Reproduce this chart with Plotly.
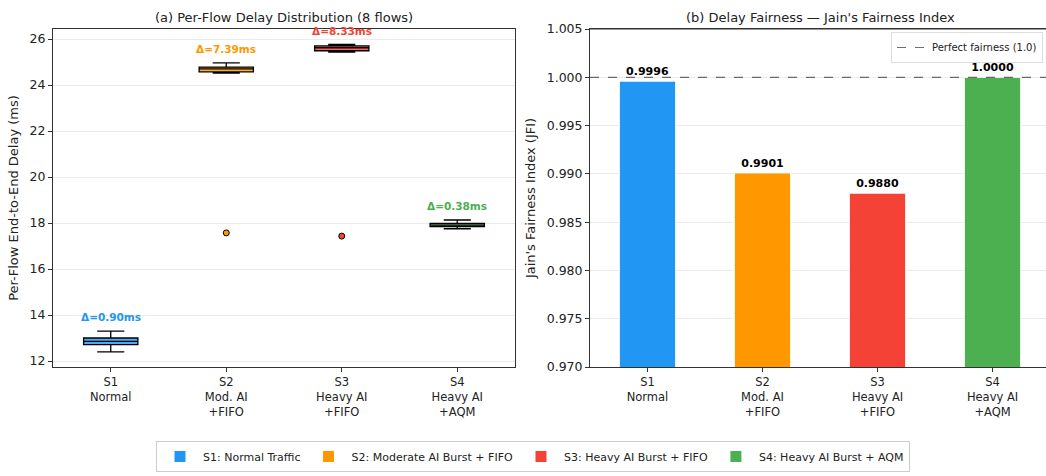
import plotly.graph_objects as go

# Scenario metadata
scenarios = ["S1", "S2", "S3", "S4"]
tick_labels = ["S1<br>Normal", "S2<br>Mod. AI<br>+FIFO", "S3<br>Heavy AI<br>+FIFO", "S4<br>Heavy AI<br>+AQM"]
legend_names = ["S1: Normal Traffic", "S2: Moderate AI Burst + FIFO",
                "S3: Heavy AI Burst + FIFO", "S4: Heavy AI Burst + AQM"]
colors = ["#2196F3", "#FF9800", "#F44336", "#4CAF50"]
fills = ["rgba(33,150,243,0.8)", "rgba(255,152,0,0.8)", "rgba(244,67,54,0.8)", "rgba(76,175,80,0.8)"]

# Per-flow end-to-end delay (ms), 8 flows per scenario
delay_s1 = [12.40, 12.68, 12.75, 12.82, 12.88, 12.95, 13.05, 13.30]
delay_s2 = [17.57, 24.52, 24.63, 24.68, 24.72, 24.76, 24.80, 24.96]
delay_s3 = [17.43, 25.43, 25.55, 25.60, 25.64, 25.68, 25.72, 25.76]
delay_s4 = [17.75, 17.82, 17.86, 17.89, 17.92, 17.95, 18.02, 18.13]
delays = [delay_s1, delay_s2, delay_s3, delay_s4]

# Jain's fairness index of the per-flow delays
jfi = [0.9996, 0.9901, 0.9880, 1.0000]

FONT = "DejaVu Sans"
W, H = 1046, 476
ML, MR, MT, MB = 53, 0, 29, 109
pw = W - ML - MR
ph = H - MT - MB

def px_x(p):
    return (p - ML) / pw

def px_y(p):
    return (H - MB - p) / ph

fig = go.Figure()

# (a) box plots
positions = [1, 2, 3, 4]
for i, d in enumerate(delays):
    fig.add_trace(go.Box(
        x=[positions[i]] * len(d), y=d,
        xaxis="x", yaxis="y",
        width=0.47, whiskerwidth=0.5,
        fillcolor=fills[i],
        line=dict(color="black", width=1.3),
        boxpoints="outliers", quartilemethod="linear",
        marker=dict(color=colors[i], size=6, line=dict(color="black", width=1)),
        showlegend=False, hoverinfo="skip",
    ))
    spread = max(d) - min(d)
    fig.add_annotation(
        x=positions[i], y=max(d) + 0.6, xref="x", yref="y",
        text=f"<b>Δ={spread:.2f}ms</b>", showarrow=False,
        font=dict(family=FONT, size=10.5, color=colors[i]),
    )

# (b) fairness bars
for i, v in enumerate(jfi):
    fig.add_trace(go.Bar(
        x=[i], y=[v], xaxis="x2", yaxis="y2",
        width=0.49, marker=dict(color=colors[i], line=dict(color="white", width=1)),
        name=legend_names[i], legend="legend",
        text=[f"<b>{v:.4f}</b>"], textposition="outside",
        textfont=dict(family=FONT, size=11, color="black"),
        cliponaxis=False, hoverinfo="skip",
    ))

# Perfect fairness reference line
fig.add_trace(go.Scatter(
    x=[-0.5, 3.465], y=[1.0, 1.0], xaxis="x2", yaxis="y2", mode="lines",
    line=dict(color="rgba(60,60,60,0.75)", width=1.2, dash="dash"),
    name="Perfect fairness (1.0)", legend="legend2", hoverinfo="skip",
))

left_dom = [0, px_x(515)]
right_dom = [px_x(590), 1.0]

axis_common = dict(
    showline=True, linecolor="#333", linewidth=1, mirror=True,
    ticks="outside", ticklen=4, tickcolor="#333",
    tickfont=dict(family=FONT, size=12.5, color="#222"),
    zeroline=False,
)
xtick_font = dict(family=FONT, size=11.5, color="#222")

fig.update_layout(
    width=W, height=H,
    margin=dict(l=ML, r=MR, t=MT, b=MB),
    paper_bgcolor="white", plot_bgcolor="white",
    font=dict(family=FONT, color="#222"),
    boxmode="overlay", barmode="overlay",
    xaxis=dict(domain=left_dom, range=[0.5, 4.5], tickvals=positions, ticktext=tick_labels,
               showgrid=False, **{**axis_common, "tickfont": xtick_font}),
    yaxis=dict(domain=[0, 1], range=[11.739, 26.435], tickvals=[12, 14, 16, 18, 20, 22, 24, 26],
               showgrid=True, gridcolor="rgba(0,0,0,0.08)", gridwidth=1,
               title=dict(text="Per-Flow End-to-End Delay (ms)", font=dict(family=FONT, size=13), standoff=8),
               **axis_common),
    xaxis2=dict(domain=right_dom, range=[-0.5, 3.465], tickvals=[0, 1, 2, 3], ticktext=tick_labels,
                anchor="y2", showgrid=False,
                **{**axis_common, "tickfont": xtick_font}),
    yaxis2=dict(domain=[0, 1], range=[0.970, 1.005], anchor="x2",
                tickvals=[0.970, 0.975, 0.980, 0.985, 0.990, 0.995, 1.000, 1.005],
                tickformat=".3f",
                showgrid=True, gridcolor="rgba(0,0,0,0.08)", gridwidth=1,
                title=dict(text="Jain's Fairness Index (JFI)", font=dict(family=FONT, size=13), standoff=8),
                **{**axis_common, "mirror": False}),
    legend=dict(
        orientation="h", x=px_x(533), xanchor="center", y=px_y(472), yanchor="bottom",
        bordercolor="#ccc", borderwidth=1, bgcolor="white",
        font=dict(family=FONT, size=11, color="#222"),
        itemwidth=36, tracegroupgap=0,
    ),
    legend2=dict(
        x=px_x(1043), xanchor="right", y=px_y(32), yanchor="top",
        bordercolor="#ddd", borderwidth=1, bgcolor="rgba(255,255,255,0.9)",
        font=dict(family=FONT, size=10, color="#222"),
        itemwidth=30, tracegroupgap=0,
    ),
)

# Top spine of the right panel
fig.add_shape(type="line", xref="x2 domain", yref="y2 domain", x0=0, x1=1, y0=1, y1=1,
              line=dict(color="#333", width=1))

# Panel titles
fig.add_annotation(x=(left_dom[0] + left_dom[1]) / 2, y=px_y(18), xref="paper", yref="paper",
                   text="(a) Per-Flow Delay Distribution (8 flows)", showarrow=False,
                   font=dict(family=FONT, size=13, color="#222"), xanchor="center", yanchor="middle")
fig.add_annotation(x=px_x(820), y=px_y(18), xref="paper", yref="paper",
                   text="(b) Delay Fairness — Jain's Fairness Index", showarrow=False,
                   font=dict(family=FONT, size=13, color="#222"), xanchor="center", yanchor="middle")

fig.write_html("out.html")
